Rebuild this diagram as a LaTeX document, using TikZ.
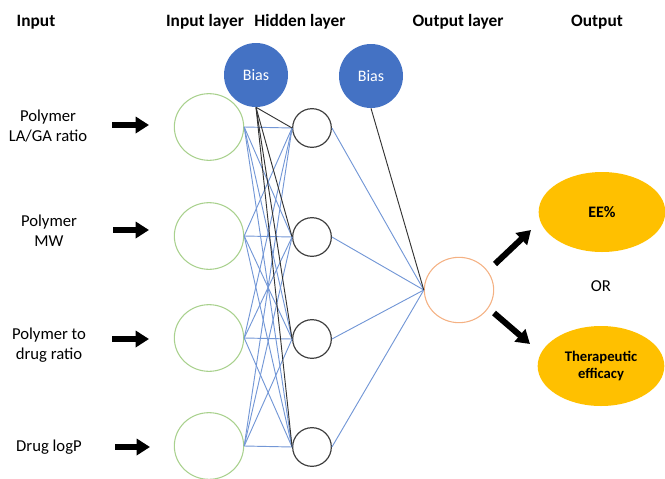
\documentclass[tikz,border=0pt]{standalone}
\usepackage{fontspec}
\setmainfont{Carlito}
\usepackage{xcolor}
\usepackage{tikz}
\usetikzlibrary{calc}
\usetikzlibrary{arrows.meta}
\usetikzlibrary{shapes.geometric}
\definecolor{biasblue}{HTML}{4472C4}
\definecolor{linkblue}{HTML}{7397D6}
\definecolor{ingreen}{HTML}{A9D18E}
\definecolor{outorange}{HTML}{F4B183}
\definecolor{resgold}{HTML}{FFC000}
\tikzset{>=latex}
\tikzstyle{title} = [draw=none, inner sep = 0, font=\fontsize{13}{15}\selectfont\bfseries]
\tikzstyle{feat} = [draw=none, inner sep = 0, align=center, font=\fontsize{12.5}{15}\selectfont]
\tikzstyle{inunit} = [ellipse, draw=ingreen, line width=0.8pt, minimum width=52pt, minimum height=50pt, inner sep=0]
\tikzstyle{hunit} = [circle, draw=black!75, line width=0.9pt, minimum size=29pt, inner sep=0]
\tikzstyle{bias} = [circle, fill=biasblue, text=white, minimum size=48pt, inner sep=0, font=\fontsize{12}{14}\selectfont]
\tikzstyle{result} = [ellipse, fill=resgold, minimum width=95pt, minimum height=60pt, inner sep=0, align=center, font=\fontsize{11}{13}\selectfont\bfseries]
\tikzstyle{link} = [-, draw=linkblue, line width=0.7pt]
\tikzstyle{blink} = [-, draw=black!80, line width=0.7pt]
\tikzstyle{fat} = [-{Triangle[length=10pt, width=12pt]}, draw=black, line width=4.5pt]

\begin{document}
\begin{tikzpicture}[x=0.75pt, y=-0.75pt]
\useasboundingbox (0, 0) rectangle (665, 479);
% column titles
\node [title] (t1) at (36, 22) {Input};
\node [title] (t2) at (205, 22) {Input layer};
\node [title] (t3) at (300, 22) {Hidden layer};
\node [title] (t4) at (458, 22) {Output layer};
\node [title] (t5) at (597, 22) {Output};
% inputs
\node [feat] (f1) at (48, 126) {Polymer\\LA/GA ratio};
\node [feat] (f2) at (49, 231) {Polymer\\MW};
\node [feat] (f3) at (49, 345) {Polymer to\\drug ratio};
\node [feat] (f4) at (49, 447) {Drug logP};
% units
\node [inunit] (I1) at (209, 127) {};
\node [inunit] (I2) at (209, 236) {};
\node [inunit] (I3) at (209, 338) {};
\node [inunit] (I4) at (209, 446) {};
\node [hunit] (H1) at (312, 128) {};
\node [hunit] (H2) at (312, 237) {};
\node [hunit] (H3) at (312, 339) {};
\node [hunit] (H4) at (312, 447) {};
\node [bias] (B1) at (256, 75) {Bias};
\node [bias] (B2) at (371, 76) {Bias};
\node [ellipse, draw=outorange, line width=0.8pt, minimum width=52pt, minimum height=49pt, inner sep=0] (O) at (459, 290) {};
% outputs
\node [result] (R1) at (602, 212) {\fontsize{12}{14}\selectfont EE\%};
\node [result] (R2) at (601, 366) {Therapeutic\\efficacy};
\node [feat] (or) at (601, 286) {OR};
% weights
\foreach \i in {1,...,4}
  \foreach \j in {1,...,4}
    \draw [link] (I\i.east) -- (H\j.west);
\foreach \j in {1,...,4}
  \draw [blink] (B1.south) -- (H\j.west);
\foreach \j in {1,...,4}
  \draw [link] (H\j.east) -- (O.west);
\draw [blink] (B2.south) -- (O.west);
% block arrows
\coordinate (a1) at (112, 125); \coordinate (a1e) at (149, 125);
\coordinate (a2) at (113, 230); \coordinate (a2e) at (149, 230);
\coordinate (a3) at (112, 339); \coordinate (a3e) at (149, 339);
\coordinate (a4) at (115, 447); \coordinate (a4e) at (150, 447);
\draw [fat] (a1) to (a1e);
\draw [fat] (a2) to (a2e);
\draw [fat] (a3) to (a3e);
\draw [fat] (a4) to (a4e);
\coordinate (o1) at (495, 264); \coordinate (o1e) at (531, 230);
\coordinate (o2) at (494, 313); \coordinate (o2e) at (530, 344);
\draw [fat] (o1) to (o1e);
\draw [fat] (o2) to (o2e);
\end{tikzpicture}
\end{document}
